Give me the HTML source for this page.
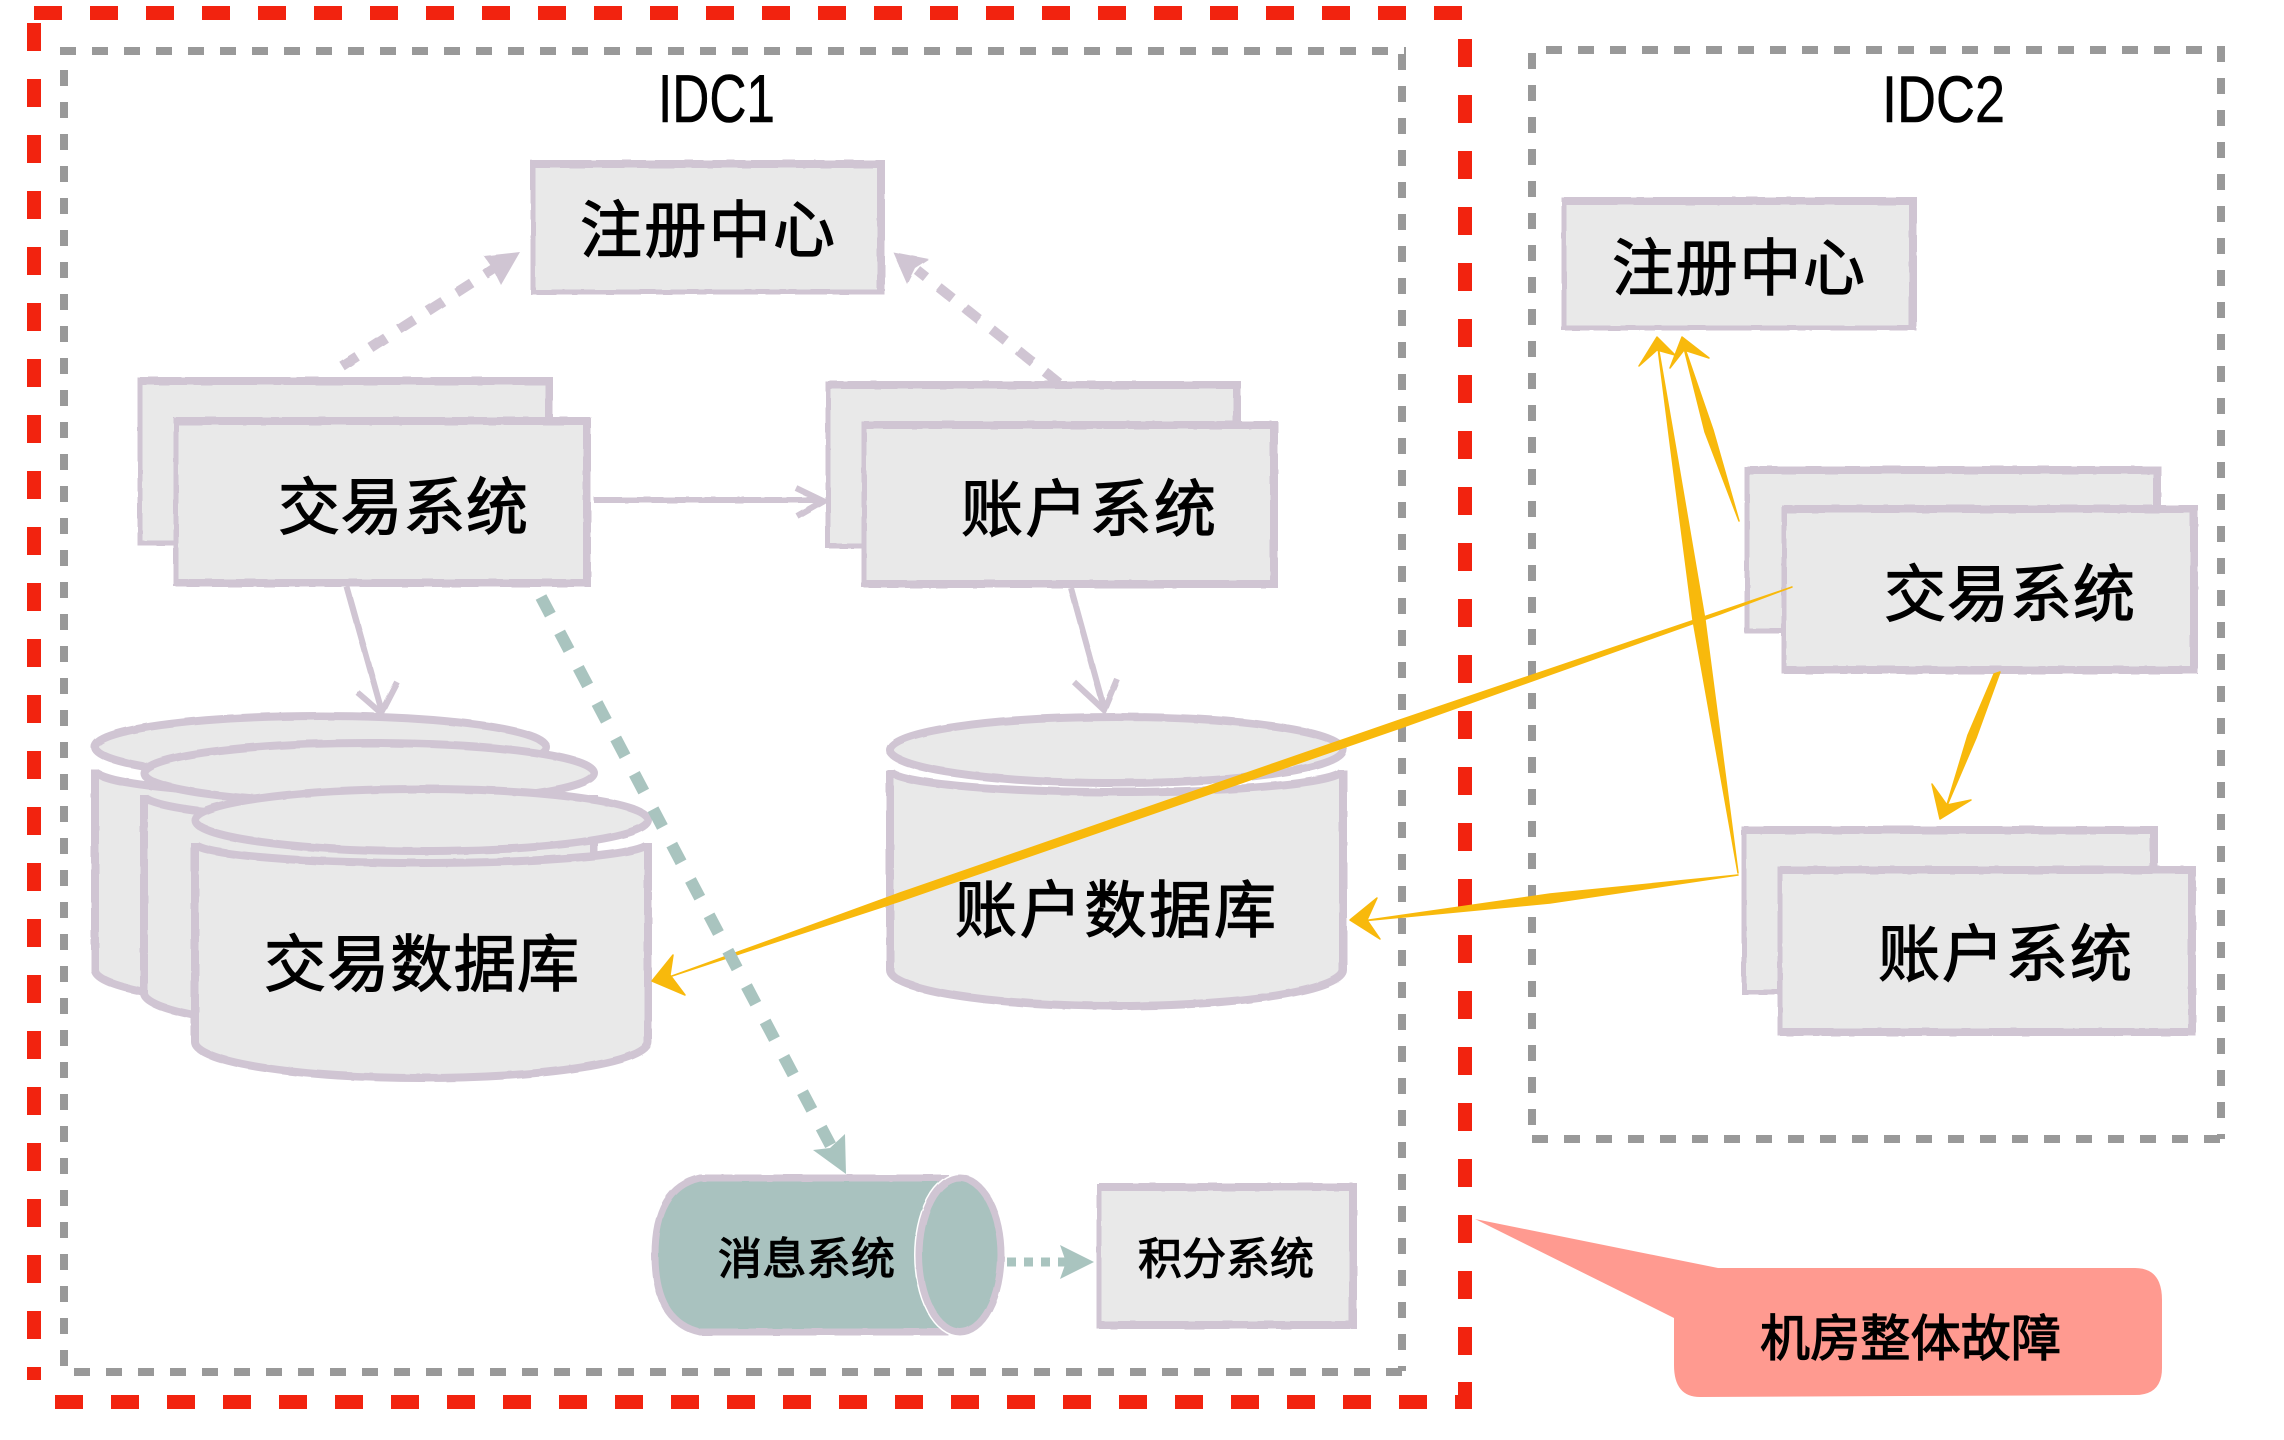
<!DOCTYPE html>
<html><head><meta charset="utf-8"><style>
html,body{margin:0;padding:0;background:#fff}
svg{display:block}
.t{font-family:"Liberation Sans","Noto Sans CJK SC","WenQuanYi Zen Hei",sans-serif;fill:#000;stroke:#000;stroke-width:1.2}
.b{fill:#e9e9e9;stroke:#d0c5d3;stroke-width:5}
.e{fill:none;stroke:#d0c5d3;stroke-width:8}
.c{fill:#e9e9e9;stroke:#d0c5d3;stroke-width:8}
.y{fill:#f8b90c;stroke:#f8b90c;stroke-width:1.5;stroke-linejoin:round}
.ln{fill:none;stroke:#d0c5d3;stroke-width:6}
</style></head><body>
<svg width="2284" height="1440" viewBox="0 0 2284 1440" xmlns="http://www.w3.org/2000/svg">
<defs><filter id="r" x="-5%" y="-5%" width="110%" height="110%"><feTurbulence type="fractalNoise" baseFrequency=".05" numOctaves="2" seed="3"/><feDisplacementMap in="SourceGraphic" scale="2"/></filter></defs>
<rect width="2284" height="1440" fill="#fff"/>
<!-- red -->
<g fill="none" stroke="#f2230f" stroke-width="14">
<path d="M34 13H1462" stroke-dasharray="28 28"/>
<path d="M34 23V1380" stroke-dasharray="28 28"/>
<path d="M1465 39V1382" stroke-dasharray="28 28"/>
<path d="M55 1402H1471" stroke-dasharray="28 28"/>
<path d="M1465 1382V1409" stroke-dasharray="none"/>
</g>
<!-- grey -->
<g fill="none" stroke="#999" stroke-width="8" stroke-dasharray="16 16">
<path d="M60 51H1406"/><path d="M64 70V1366"/><path d="M1402 54V1371"/><path d="M74 1372H1406"/>
<path d="M1546 50H2220"/><path d="M1532 53V1139"/><path d="M2221 46V1139"/><path d="M1532 1139H2226"/>
</g>
<text class="t" x="658" y="122" font-size="68" textLength="117" lengthAdjust="spacingAndGlyphs" style="stroke-width:.6">IDC1</text>
<text class="t" x="1882" y="122" font-size="66" textLength="123" lengthAdjust="spacingAndGlyphs" style="stroke-width:.6">IDC2</text>

<g filter="url(#r)">
<!-- IDC1 boxes -->
<rect class="b" x="533" y="163" width="349" height="129"/><path class="e" d="M531 164H881V291"/>
<rect class="b" x="140" y="380" width="410" height="163"/><path class="e" d="M140 381H549V420"/>
<rect class="b" x="176" y="420" width="412" height="164"/><path class="e" d="M176 421H587V583H176"/>
<rect class="b" x="828" y="384" width="410" height="162"/><path class="e" d="M828 385H1237V425"/>
<rect class="b" x="864" y="424" width="411" height="161"/><path class="e" d="M864 425H1274V584H864"/>
<!-- IDC2 boxes -->
<rect class="b" x="1564" y="200" width="350" height="128"/><path class="e" d="M1564 201H1913V327"/>
<rect class="b" x="1747" y="469" width="411" height="162"/><path class="e" d="M1747 470H2157V510"/>
<rect class="b" x="1784" y="508" width="411" height="163"/><path class="e" d="M1784 509H2194V670H1784"/>
<rect class="b" x="1744" y="829" width="411" height="163"/><path class="e" d="M1744 830H2154V870"/>
<rect class="b" x="1780" y="869" width="413" height="164"/><path class="e" d="M1780 870H2192V1032H1780"/>
<rect class="b" x="1099" y="1186" width="255" height="140"/><path class="e" d="M1099 1187H1353V1325H1099"/>
<!-- trading db -->
<path class="c" d="M95 770V970A225.5 35 0 0 0 546 970V770A225.5 24 0 0 1 95 770Z"/><ellipse class="c" cx="320.5" cy="747" rx="225.5" ry="31"/>
<path class="c" d="M144 795V993A225 35 0 0 0 594 993V795A225 24 0 0 1 144 795Z"/><ellipse class="c" cx="369" cy="773" rx="225" ry="30"/>
<path class="c" d="M195 843V1042A226.500 36 0 0 0 648 1042V843A226.500 20 0 0 1 195 843Z"/><ellipse class="c" cx="421.5" cy="820" rx="226.5" ry="31"/>
<!-- account db -->
<path class="c" d="M890 770V970A226.500 36 0 0 0 1343 970V770A226.500 22 0 0 1 890 770Z"/><ellipse class="c" cx="1116.5" cy="750" rx="226.5" ry="33"/>
<!-- message cyl -->
<path d="M945 1178H700Q655 1188 655 1255Q655 1322 700 1332H945Z" fill="#a9c2bf" stroke="#d0c5d3" stroke-width="7"/>
<ellipse cx="960" cy="1255" rx="41" ry="77" fill="#a9c2bf" stroke="#fff" stroke-width="10"/>
<ellipse cx="960" cy="1255" rx="41" ry="77" fill="#a9c2bf" stroke="#d0c5d3" stroke-width="7"/>
<!-- lilac connectors -->
<path d="M342 366L495 268" fill="none" stroke="#d0c5d3" stroke-width="10" stroke-dasharray="18 16"/>
<polygon points="520,252 484,256 493,269 501,285" fill="#d0c5d3"/>
<path d="M1059 383L917 270" fill="none" stroke="#d0c5d3" stroke-width="10" stroke-dasharray="18 16"/>
<polygon points="893,252 929,259 915,268 907,284" fill="#d0c5d3"/>
<path class="ln" d="M594 500L822 500"/><path class="ln" d="M796 488L823 501L797 516"/>
<path class="ln" d="M347 587L382 712"/><path class="ln" d="M357 692L381 713L397 682"/>
<path class="ln" d="M1071 588L1104 708"/><path class="ln" d="M1074 682L1104 710L1117 679"/>
</g>

<!-- yellow -->
<polygon class="y" points="1792,587 1400,720 900,893 672,976 900,901 1400,728 1720,614"/>
<polygon class="y" points="652,981 673,955 670,975 685,995"/>
<polygon class="y" points="1738,873 1705,620 1676,450 1657,340 1671,450 1693,620"/>
<polygon class="y" points="1657,337 1639,366 1657,350 1675,355"/>
<polygon class="y" points="1739,521 1713,430 1682,340 1705,432"/>
<polygon class="y" points="1682,337 1670,368 1684,350 1709,358"/>
<polygon class="y" points="1738,875 1550,894 1362,921 1550,903"/>
<polygon class="y" points="1350,920 1377,898 1367,920 1380,939"/>
<polygon class="y" points="2000,672 1976,738 1946,808 1968,735 1994,674"/>
<polygon class="y" points="1940,819 1932,784 1947,805 1971,800"/>

<!-- teal -->
<path d="M541 597L832 1148" fill="none" stroke="#a9c4bf" stroke-width="12" stroke-dasharray="20 20"/>
<polygon points="846,1174 813,1150 830,1148 845,1134" fill="#a9c4bf"/>
<path d="M1007 1262H1066" fill="none" stroke="#a9c4bf" stroke-width="9" stroke-dasharray="9 8"/>
<polygon points="1094,1262 1060,1245 1066,1262 1060,1279" fill="#a9c4bf"/>

<!-- callout -->
<path d="M1475 1219L1718 1268H2135Q2162 1268 2162 1300V1368Q2162 1395 2135 1395L1700 1397Q1674 1397 1674 1365V1318Z" fill="#ff9a90"/>

<!-- text -->
<g class="t" font-size="62">
<text x="580" y="252" textLength="255">注册中心</text>
<text x="278" y="529" textLength="250">交易系统</text>
<text x="961" y="531" textLength="255">账户系统</text>
<text x="1612" y="290" textLength="253">注册中心</text>
<text x="1884" y="616" textLength="251">交易系统</text>
<text x="1878" y="976" textLength="254">账户系统</text>
<text x="264" y="986" textLength="315">交易数据库</text>
<text x="955" y="932" textLength="321">账户数据库</text>
</g>
<g class="t" font-size="44">
<text x="718" y="1274" textLength="177">消息系统</text>
<text x="1138" y="1274" textLength="176">积分系统</text>
</g>
<text class="t" x="1760" y="1356" font-size="50" textLength="301">机房整体故障</text>
</svg>
</body></html>
